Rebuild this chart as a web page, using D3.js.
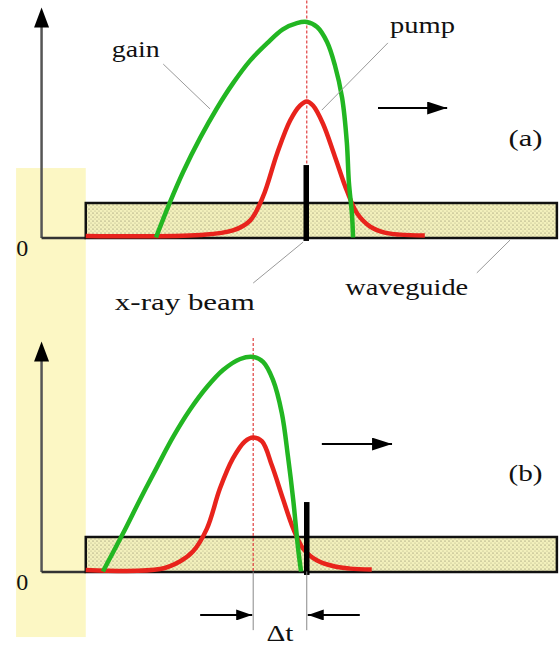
<!DOCTYPE html>
<html><head><meta charset="utf-8">
<script src="https://cdn.jsdelivr.net/npm/d3@7"></script>
<style>html,body{margin:0;padding:0;background:#fff;}svg{display:block;}
text{font-family:"Liberation Serif","Times New Roman",Times,Tinos,serif;}</style>
</head><body>
<svg id="chart" width="559" height="649"></svg>
<script>
// ---------- DATA (position units along the waveguide, intensity units 0..100) ----------
const panels = ["(a)", "(b)"];
// gain profile, panel (a): [position, gain]
const gainA = [[22.3,0],[25.0,15.4],[27.5,28.4],[30.8,43.3],[34.0,56.1],[37.1,67.0],[40.4,76.9],[43.7,84.5],[46.7,90.5],[49.4,93.2],[51.3,93.7],[53.3,91.5],[55.2,85.0],[56.7,75.0],[58.1,60.7],[59.0,41.5],[59.4,24.1],[60.0,9.8],[60.2,0]];
// pump pulse, panel (a)
const pumpA = [[8.8,0],[30.8,0.4],[37.1,2.4],[40.4,6.7],[42.9,17.2],[45.6,35.9],[48.1,50.2],[50.0,56.7],[51.3,58.5],[52.5,56.7],[54.4,48.9],[56.7,34.6],[59.0,19.8],[61.0,9.8],[63.5,4.1],[66.3,1.5],[69.2,0.6],[74.0,0.2]];
// gain profile, panel (b)
const gainB = [[12.1,0],[16.0,16.7],[19.2,31.1],[22.5,45.4],[25.6,58.5],[28.8,70.2],[32.1,80.2],[35.2,87.6],[38.5,92.4],[41.0,93.3],[42.9,91.1],[44.8,83.3],[46.5,68.9],[47.7,49.8],[48.7,31.1],[49.6,10.7],[50.2,0]];
// pump pulse, panel (b)
const pumpB = [[8.8,0],[23.1,0.4],[26.9,3.7],[29.4,8.0],[32.1,18.0],[34.6,35.4],[37.1,48.5],[39.4,55.9],[41.0,57.6],[42.7,55.9],[44.6,45.4],[46.7,31.1],[48.7,18.0],[50.6,9.3],[53.3,4.1],[56.7,1.5],[59.6,0.6],[63.8,0.2]];
const pumpCenter = [51.3, 41.0];     // pump peak position per panel
const beamPos = [51.2, 51.3];        // x-ray beam position per panel
const beamHeight = [31.5, 30.2];
const waveguide = {start: 8.8, end: 99.4, height: 15};
const motionArrow = [[65.0, 78.3, 56.3], [54.2, 67.7, 55.4]]; // [from, to, level]
const labels = ["gain", "pump", "x-ray beam", "waveguide"];
const zeroLabel = "0";
const deltaLabel = "Δt";

// ---------- LAYOUT ----------
const svg = d3.select("#chart");
const x = d3.scaleLinear().domain([0, 100]).range([40, 560]);
const baselines = [237.5, 571.5];
const yScales = baselines.map(b => d3.scaleLinear().domain([0, 100]).range([b, b - 230]));
const GREEN = "#22b622", RED = "#e8231c";

const defs = svg.append("defs");
const pat = defs.append("pattern").attr("id","stip").attr("patternUnits","userSpaceOnUse")
  .attr("width",4).attr("height",4);
pat.append("rect").attr("width",4).attr("height",4).attr("fill","#f3f0bc");
pat.append("circle").attr("cx",1).attr("cy",1).attr("r",0.6).attr("fill","#77755a");
pat.append("circle").attr("cx",3).attr("cy",3).attr("r",0.5).attr("fill","#a09e7a");
function arrowMarker(id, w, h){
  defs.append("marker").attr("id",id).attr("viewBox",`0 0 ${w} ${h}`)
    .attr("refX",w).attr("refY",h/2).attr("markerWidth",w).attr("markerHeight",h)
    .attr("markerUnits","userSpaceOnUse").attr("orient","auto")
    .append("path").attr("d",`M0,0L${w},${h/2}L0,${h}Z`).attr("fill","#000");
}
arrowMarker("head", 20, 13);
arrowMarker("headS", 16, 11);

// yellow background band
const y0 = yScales[0], y1 = yScales[1];
svg.append("rect").attr("x", x(-4.6)).attr("y", y0(30.2))
  .attr("width", x(waveguide.start) - x(-4.6)).attr("height", y1(-28.5) - y0(30.2))
  .attr("fill", "#fcf7c4");

const line = d3.line().x(d => x(d[0])).y(d => d.y).curve(d3.curveCatmullRom.alpha(0.5));

const gains = [gainA, gainB], pumps = [pumpA, pumpB];
panels.forEach((p, i) => {
  const y = yScales[i];
  const g = svg.append("g");
  // y axis with arrow
  g.append("line").attr("x1", x(0.3)).attr("x2", x(0.3)).attr("y1", y(0)+0.5).attr("y2", y(96))
    .attr("stroke","#555").attr("stroke-width",2.5);
  g.append("path").attr("d", `M${x(0.3)},${y(100)}L${x(0.3)-7.5},${y(91.3)}L${x(0.3)+7.5},${y(91.3)}Z`).attr("fill","#000");
  g.append("line").attr("x1", x(0.3)).attr("x2", x(waveguide.start)).attr("y1", y(0)+0.5).attr("y2", y(0)+0.5)
    .attr("stroke","#333").attr("stroke-width",2.5);
  // waveguide
  g.append("rect").attr("x", x(waveguide.start)).attr("y", y(waveguide.height))
    .attr("width", x(waveguide.end) - x(waveguide.start)).attr("height", y(0) - y(waveguide.height) + 0.5)
    .attr("fill","url(#stip)").attr("stroke","#111").attr("stroke-width",2.5);
  // pump centre dotted line
  g.append("line").attr("x1", x(pumpCenter[i])).attr("x2", x(pumpCenter[i]))
    .attr("y1", y(i === 0 ? 103 : 101.5)).attr("y2", y(0))
    .attr("stroke","#e04040").attr("stroke-width",1.2).attr("stroke-dasharray","3,2");
  // curves
  g.append("path").datum(pumps[i].map(d => ({0:d[0], y:y(d[1]) - 1.5})))
    .attr("d", line).attr("fill","none").attr("stroke",RED).attr("stroke-width",4.5);
  g.append("path").datum(gains[i].map(d => ({0:d[0], y:y(d[1])})))
    .attr("d", line).attr("fill","none").attr("stroke",GREEN).attr("stroke-width",4.5);
  // x-ray beam
  g.append("line").attr("x1", x(beamPos[i])).attr("x2", x(beamPos[i]))
    .attr("y1", y(beamHeight[i])).attr("y2", y(-1.5))
    .attr("stroke","#000").attr("stroke-width",5.5);
  // motion arrow
  const m = motionArrow[i];
  g.append("line").attr("x1", x(m[0])).attr("x2", x(m[1])).attr("y1", y(m[2])).attr("y2", y(m[2]))
    .attr("stroke","#000").attr("stroke-width",2).attr("marker-end","url(#head)");
  // panel label
  g.append("text").attr("x", x(90.1)).attr("y", y(i === 0 ? 39.8 : 39.3)).text(p)
    .attr("font-size",24).attr("fill","#111")
    .attr("textLength",34).attr("lengthAdjust","spacingAndGlyphs");
  // zero label
  g.append("text").attr("x", x(-3.4)).attr("y", y(-8)).attr("text-anchor","middle").text(zeroLabel)
    .attr("font-size",24).attr("fill","#111");
});

// annotations on panel (a)
const ya = yScales[0];
const txt = (s, u, v, len, yy) => svg.append("text").attr("x", x(u)).attr("y", yy(v)).text(s)
  .attr("font-size",24).attr("fill","#111")
  .attr("textLength",len).attr("lengthAdjust","spacingAndGlyphs");
txt(labels[0], 13.8, 78.5, 48, ya);
txt(labels[1], 67.3, 88.9, 65, ya);
txt(labels[2], 14.4, -31.5, 140, ya);
txt(labels[3], 58.7, -25.0, 123, ya);
const leader = (a, b) => svg.append("line").attr("x1", x(a[0])).attr("y1", ya(a[1]))
  .attr("x2", x(b[0])).attr("y2", ya(b[1])).attr("stroke","#9a9a9a").attr("stroke-width",1);
leader([23.7, 75.4], [32.7, 55.9]);
leader([66.9, 84.6], [54.2, 55.4]);
leader([41.0, -19.8], [50.6, -2.0]);
leader([84.0, -15.4], [90.4, -1.1]);

// Δt markers on panel (b)
const yb = yScales[1];
[pumpCenter[1], beamPos[1]].forEach(u => {
  svg.append("line").attr("x1", x(u)).attr("x2", x(u)).attr("y1", yb(0)).attr("y2", yb(-25.5))
    .attr("stroke","#888").attr("stroke-width",1);
});
svg.append("line").attr("x1", x(30.8)).attr("x2", x(pumpCenter[1]) - 1).attr("y1", yb(-18.9)).attr("y2", yb(-18.9))
  .attr("stroke","#000").attr("stroke-width",2).attr("marker-end","url(#headS)");
svg.append("line").attr("x1", x(61.5)).attr("x2", x(beamPos[1]) + 1).attr("y1", yb(-18.9)).attr("y2", yb(-18.9))
  .attr("stroke","#000").attr("stroke-width",2).attr("marker-end","url(#headS)");
svg.append("text").attr("x", x((pumpCenter[1] + beamPos[1]) / 2)).attr("y", yb(-30.4))
  .attr("text-anchor","middle").text(deltaLabel)
  .attr("font-size",23).attr("fill","#111")
  .attr("textLength",27).attr("lengthAdjust","spacingAndGlyphs");
</script>
</body></html>
